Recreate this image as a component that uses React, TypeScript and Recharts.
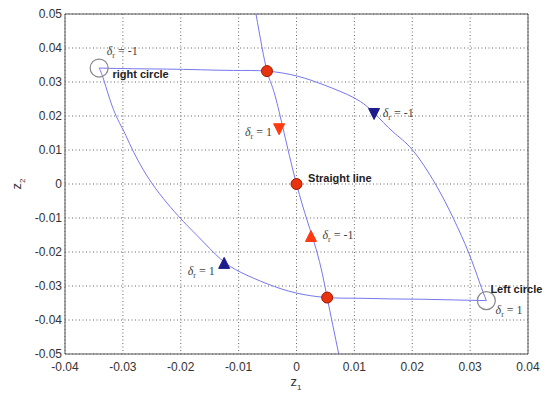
import {
  CartesianGrid,
  ComposedChart,
  Label,
  Line,
  ReferenceLine,
  Scatter,
  XAxis,
  YAxis,
} from "recharts"

const xTicks = [-0.04, -0.03, -0.02, -0.01, 0, 0.01, 0.02, 0.03, 0.04]
const yTicks = [-0.05, -0.04, -0.03, -0.02, -0.01, 0, 0.01, 0.02, 0.03, 0.04, 0.05]

// upper trajectory: right circle -> equilibrium -> left circle
const upperZ1 = [-0.0341, -0.0282, -0.0225, -0.0166, -0.0109, -0.0051, 0.0002, 0.0048, 0.01, 0.0134, 0.0167, 0.02, 0.024, 0.0271, 0.0297, 0.0316, 0.0328]
const upperZ2 = [0.0341, 0.0339, 0.0338, 0.0336, 0.0334, 0.0332, 0.0317, 0.0291, 0.0253, 0.0209, 0.0153, 0.0101, 0.0, -0.0101, -0.02, -0.0288, -0.0343]

// lower trajectory: left circle -> equilibrium -> right circle
const lowerZ1 = [0.0328, 0.0273, 0.0218, 0.0163, 0.0108, 0.0053, -0.0002, -0.005, -0.0096, -0.0131, -0.0168, -0.02, -0.0249, -0.0284, -0.0298, -0.0316, -0.0333, -0.0341]
const lowerZ2 = [-0.0343, -0.0341, -0.0339, -0.0338, -0.0336, -0.0334, -0.032, -0.0294, -0.026, -0.0221, -0.0158, -0.0102, 0.0, 0.0103, 0.0154, 0.0218, 0.0306, 0.0341]

// straight line
const lineZ1 = [-0.007, -0.0051, -0.0035, 0, 0.0034, 0.0053, 0.0073]
const lineZ2 = [0.05, 0.0332, 0.0247, 0, -0.0192, -0.0334, -0.05]

const dotZ1 = [-0.0051, 0, 0.0053]
const dotZ2 = [0.0332, 0, -0.0334]

const circleZ1 = [-0.0341, 0.0328]
const circleZ2 = [0.0341, -0.0343]

const redArrowZ1 = [-0.003, 0.0025]
const redArrowZ2 = [0.0161, -0.0153]
const redArrowDir = ["down", "up"]

const blueArrowZ1 = [0.0134, -0.0125]
const blueArrowZ2 = [0.0206, -0.0232]
const blueArrowDir = ["down", "up"]

const deltaValue = ["-1", "1", "-1", "-1", "1", "1"]
const deltaZ1 = [-0.0328, -0.0089, 0.0149, 0.0045, -0.0188, 0.0344]
const deltaZ2 = [0.0379, 0.0142, 0.0197, -0.0163, -0.0269, -0.0382]

const nameText = ["right circle", "Straight line", "Left circle"]
const nameZ1 = [-0.0318, 0.002, 0.0335]
const nameZ2 = [0.0311, 0.0007, -0.032]

const pts = (xs: number[], ys: number[]) => xs.map((x, i) => ({ x, y: ys[i], i }))

const upper = pts(upperZ1, upperZ2)
const lower = pts(lowerZ1, lowerZ2)
const straight = pts(lineZ1, lineZ2)
const dots = pts(dotZ1, dotZ2)
const circles = pts(circleZ1, circleZ2)
const redArrows = pts(redArrowZ1, redArrowZ2).map((p) => ({ ...p, dir: redArrowDir[p.i] }))
const blueArrows = pts(blueArrowZ1, blueArrowZ2).map((p) => ({ ...p, dir: blueArrowDir[p.i] }))
const deltas = pts(deltaZ1, deltaZ2).map((p) => ({ ...p, v: deltaValue[p.i] }))
const names = pts(nameZ1, nameZ2).map((p) => ({ ...p, t: nameText[p.i] }))

const LINE = "#7777ee"
const TICK = { fill: "#333", fontSize: 12, fontFamily: "Liberation Sans" }

function Triangle(color: string) {
  return (props: any) => {
    const { cx, cy, payload } = props
    const h = 5.5
    const d =
      payload.dir === "down"
        ? `${cx - h},${cy - h} ${cx + h},${cy - h} ${cx},${cy + h}`
        : `${cx - h},${cy + h} ${cx + h},${cy + h} ${cx},${cy - h}`
    return <polygon points={d} fill={color} stroke={color} />
  }
}

function DeltaText(props: any) {
  const { cx, cy, payload } = props
  return (
    <text x={cx} y={cy} fontFamily="Liberation Serif" fontSize={12} fill="#444">
      <tspan fontStyle="italic">δ</tspan>
      <tspan fontSize={8} dy={3}>r</tspan>
      <tspan dy={-3}>{` = ${payload.v}`}</tspan>
    </text>
  )
}

function NameText(props: any) {
  const { cx, cy, payload } = props
  return (
    <text x={cx} y={cy} fontFamily="Liberation Sans" fontSize={11} fontWeight="bold" fill="#222">
      {payload.t}
    </text>
  )
}

export default function App() {
  return (
    <div style={{ position: "absolute", left: 0, top: 0, background: "#fff" }}>
      <ComposedChart
        width={546}
        height={395}
        margin={{ top: 14, right: 18, bottom: 0, left: 0 }}
      >
        <CartesianGrid stroke="#666" strokeDasharray="1 2.5" />
        <XAxis
          type="number"
          dataKey="x"
          domain={[-0.04, 0.04]}
          ticks={xTicks}
          height={41}
          tickLine={false}
          tickSize={6}
          tickMargin={2}
          axisLine={{ stroke: "#555" }}
          tick={TICK}
        >
          <Label
            content={() => (
              <text x={296} y={386} fontFamily="Liberation Sans" fontSize={13} fill="#333" textAnchor="middle">
                z<tspan fontSize={8} dy={4}>1</tspan>
              </text>
            )}
          />
        </XAxis>
        <YAxis
          type="number"
          dataKey="y"
          domain={[-0.05, 0.05]}
          ticks={yTicks}
          width={65}
          tickLine={false}
          tickSize={3}
          tickMargin={0}
          axisLine={{ stroke: "#555" }}
          tick={TICK}
        >
          <Label
            content={() => (
              <text
                x={21}
                y={184}
                fontFamily="Liberation Sans"
                fontSize={13}
                fill="#333"
                textAnchor="middle"
                transform="rotate(-90 21 184)"
              >
                z<tspan fontSize={8} dy={4}>2</tspan>
              </text>
            )}
          />
        </YAxis>
        <ReferenceLine x={0.04} stroke="#555" />
        <ReferenceLine y={0.05} stroke="#555" />
        <Line data={upper} dataKey="y" type="natural" stroke={LINE} strokeWidth={1} dot={false} activeDot={false} isAnimationActive={false} />
        <Line data={lower} dataKey="y" type="natural" stroke={LINE} strokeWidth={1} dot={false} activeDot={false} isAnimationActive={false} />
        <Line data={straight} dataKey="y" type="natural" stroke={LINE} strokeWidth={1} dot={false} activeDot={false} isAnimationActive={false} />
        <Scatter
          data={circles}
          dataKey="y"
          isAnimationActive={false}
          shape={(p: any) => <circle cx={p.cx} cy={p.cy} r={9} fill="none" stroke="#888" strokeWidth={1.2} />}
        />
        <Scatter
          data={dots}
          dataKey="y"
          isAnimationActive={false}
          shape={(p: any) => <circle cx={p.cx} cy={p.cy} r={5.5} fill="#e8330f" stroke="#a01800" strokeWidth={1} />}
        />
        <Scatter data={redArrows} dataKey="y" isAnimationActive={false} shape={Triangle("#ff3a10")} />
        <Scatter data={blueArrows} dataKey="y" isAnimationActive={false} shape={Triangle("#1c1c8c")} />
        <Scatter data={deltas} dataKey="y" isAnimationActive={false} shape={DeltaText} />
        <Scatter data={names} dataKey="y" isAnimationActive={false} shape={NameText} />
      </ComposedChart>
    </div>
  )
}
